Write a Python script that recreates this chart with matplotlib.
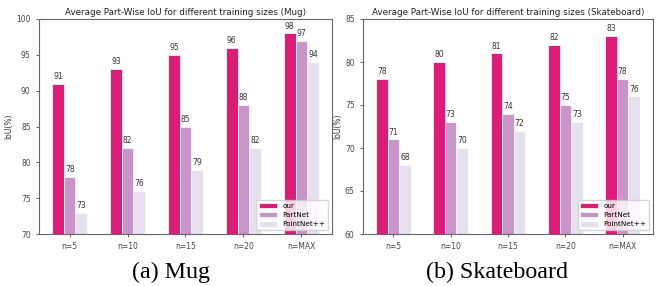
import matplotlib
matplotlib.use("Agg")
import matplotlib.pyplot as plt
import numpy as np

categories = ["n=5", "n=10", "n=15", "n=20", "n=MAX"]
series_names = ["our", "PartNet", "PointNet++"]
mug_our = [91, 93, 95, 96, 98]
mug_partnet = [78, 82, 85, 88, 97]
mug_pointnet = [73, 76, 79, 82, 94]
skate_our = [78, 80, 81, 82, 83]
skate_partnet = [71, 73, 74, 75, 78]
skate_pointnet = [68, 70, 72, 73, 76]
colors = ["#dd1c77", "#c994c7", "#e7e1ef"]

W, H = 662, 286
fig = plt.figure(figsize=(W / 100, H / 100), dpi=100)

def make_ax(x0, x1, y0, y1):
    return fig.add_axes([x0 / W, 1 - y1 / H, (x1 - x0) / W, (y1 - y0) / H])

ax1 = make_ax(39, 332, 19, 234)
ax2 = make_ax(363, 653, 19, 234)

def draw(ax, data, title, ylim, yticks):
    x = np.arange(len(categories))
    w = 0.2
    for i, (vals, name, c) in enumerate(zip(data, series_names, colors)):
        bars = ax.bar(x + (i - 1) * w, vals, w, color=c, label=name,
                      edgecolor="white", linewidth=0.5)
        ax.bar_label(bars, labels=[str(v) for v in vals], padding=2,
                     fontsize=5.5, color="#333333")
    ax.set_ylim(*ylim)
    ax.set_yticks(yticks)
    ax.set_xticks(x)
    ax.set_xticklabels(categories)
    ax.set_title(title, fontsize=6.3, pad=3, color="#222222")
    ax.set_ylabel("IoU(%)", fontsize=5.5, color="#333333", labelpad=2)
    ax.tick_params(labelsize=5.5, colors="#444444", length=2.5, width=0.6)
    for s in ax.spines.values():
        s.set_color("#666666")
        s.set_linewidth(0.8)
    ax.legend(loc="lower right", fontsize=5.2, frameon=True, framealpha=0.8,
              edgecolor="#cccccc", handlelength=2.4, borderpad=0.4,
              labelspacing=0.45)

draw(ax1, [mug_our, mug_partnet, mug_pointnet],
     "Average Part-Wise IoU for different training sizes (Mug)",
     (70, 100), [70, 75, 80, 85, 90, 95, 100])
draw(ax2, [skate_our, skate_partnet, skate_pointnet],
     "Average Part-Wise IoU for different training sizes (Skateboard)",
     (60, 85), [60, 65, 70, 75, 80, 85])

fig.text(171 / W, 1 - 272 / H, "(a) Mug", fontsize=17.3, family="Liberation Serif",
         ha="center", va="center")
fig.text(497 / W, 1 - 272 / H, "(b) Skateboard", fontsize=17.3,
         family="Liberation Serif", ha="center", va="center")

fig.savefig("out.png", dpi=100, facecolor="white")
